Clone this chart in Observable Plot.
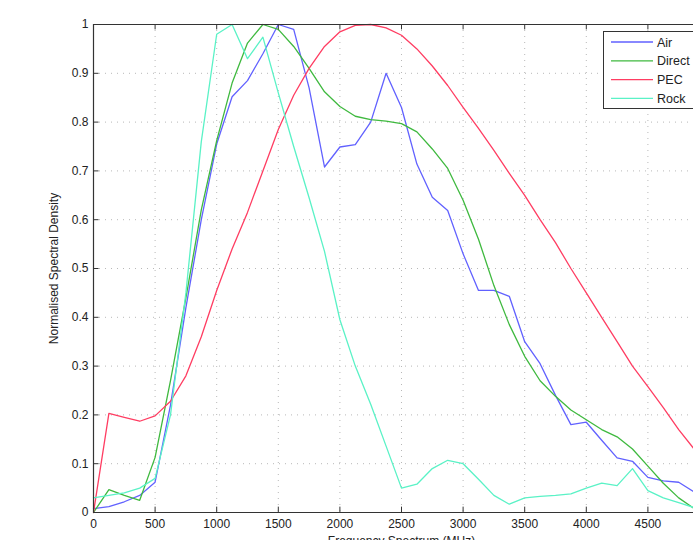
<!DOCTYPE html>
<html>
<head>
<meta charset="utf-8">
<script src="https://cdn.jsdelivr.net/npm/d3@7"></script>
<script src="https://cdn.jsdelivr.net/npm/@observablehq/plot@0.6"></script>
<style>
  html, body { margin: 0; padding: 0; background: #fff; overflow: hidden; width: 693px; height: 540px; }
  #chart { position: relative; width: 693px; height: 540px; overflow: hidden; }
  #chart svg { max-width: none !important; width: 720px !important; height: 560px !important; font-family: "Liberation Sans", Arial, sans-serif; }
</style>
</head>
<body>
<div id="chart"></div>
<script>
const freq = [0,125,250,375,500,625,750,875,1000,1125,1250,1375,1500,1625,1750,1875,2000,2125,2250,2375,2500,2625,2750,2875,3000,3125,3250,3375,3500,3625,3750,3875,4000,4125,4250,4375,4500,4625,4750,4875,5000];
const air = [0.008,0.012,0.022,0.035,0.062,0.22,0.42,0.60,0.755,0.852,0.885,0.94,1.0,0.99,0.87,0.708,0.749,0.754,0.80,0.90,0.83,0.714,0.646,0.619,0.53,0.455,0.455,0.443,0.35,0.305,0.24,0.18,0.185,0.148,0.112,0.105,0.072,0.065,0.062,0.042,0.03];
const direct = [0,0.047,0.035,0.025,0.113,0.27,0.44,0.62,0.762,0.88,0.962,1.0,0.99,0.955,0.91,0.862,0.832,0.812,0.805,0.802,0.797,0.78,0.745,0.705,0.64,0.56,0.465,0.385,0.32,0.27,0.238,0.21,0.19,0.17,0.155,0.13,0.095,0.06,0.03,0.008,0];
const pec = [0,0.203,0.195,0.187,0.198,0.228,0.28,0.36,0.455,0.54,0.615,0.70,0.785,0.855,0.91,0.955,0.985,0.998,1.0,0.993,0.978,0.95,0.915,0.875,0.83,0.787,0.742,0.695,0.65,0.60,0.553,0.50,0.45,0.40,0.35,0.30,0.258,0.215,0.17,0.13,0.095];
const rock = [0.03,0.035,0.04,0.05,0.07,0.2,0.45,0.76,0.98,1.0,0.93,0.974,0.86,0.75,0.645,0.535,0.395,0.30,0.222,0.136,0.05,0.058,0.09,0.107,0.10,0.068,0.035,0.017,0.03,0.033,0.035,0.038,0.05,0.06,0.055,0.09,0.045,0.03,0.02,0.01,0.005];

const seriesNames = ["Air", "Direct", "PEC", "Rock"];
const seriesColors = ["#6161ff", "#3fb93f", "#ff3d62", "#5af2c6"];
const seriesValues = [air, direct, pec, rock];

const xTicks = [0,500,1000,1500,2000,2500,3000,3500,4000,4500,5000];
const xTickLabels = ["0","500","1000","1500","2000","2500","3000","3500","4000","4500","5000"];
const yTicks = [0,0.1,0.2,0.3,0.4,0.5,0.6,0.7,0.8,0.9,1];
const yTickLabels = ["0","0.1","0.2","0.3","0.4","0.5","0.6","0.7","0.8","0.9","1"];

const rows = [];
seriesNames.forEach((name, i) => {
  freq.forEach((f, j) => rows.push({series: name, f, v: seriesValues[i][j]}));
});

const frameColor = "#333";
const gridColor = "#b8b8b8";

const plot = Plot.plot({
  width: 720,
  height: 560,
  marginLeft: 93,
  marginRight: 11,
  marginTop: 24,
  marginBottom: 48,
  style: {fontFamily: "'Liberation Sans', Arial, sans-serif", fontSize: "12px", color: "#222", background: "#fff", maxWidth: "none"},
  x: {domain: [0, 5000]},
  y: {domain: [0, 1]},
  color: {domain: seriesNames, range: seriesColors},
  marks: [
    Plot.gridX(xTicks.filter(d => d > 0 && d < 5000), {stroke: gridColor, strokeOpacity: 1, strokeDasharray: "1,5"}),
    Plot.gridY(yTicks.filter(d => d > 0 && d < 1), {stroke: gridColor, strokeOpacity: 1, strokeDasharray: "1,5"}),
    Plot.line(rows, {x: "f", y: "v", z: "series", stroke: "series", strokeWidth: 1.3}),
    Plot.ruleY([0, 1], {stroke: frameColor, strokeWidth: 1.2}),
    Plot.ruleX([0, 5000], {stroke: frameColor, strokeWidth: 1.2}),
    Plot.ruleX(xTicks, {x: d => d, y1: 0, y2: 0.011, stroke: frameColor}),
    Plot.ruleX(xTicks, {x: d => d, y1: 0.989, y2: 1, stroke: frameColor}),
    Plot.ruleY(yTicks, {y: d => d, x1: 0, x2: 45, stroke: frameColor}),
    Plot.ruleY(yTicks, {y: d => d, x1: 4955, x2: 5000, stroke: frameColor}),
    Plot.axisX(xTicks.slice(0, -1), {tickSize: 0, tickPadding: 7, fontSize: 12, fill: "#222", tickFormat: (d, i) => xTickLabels[i], label: "Frequency Spectrum (MHz)", labelAnchor: "center", labelArrow: "none", labelOffset: 32}),
    Plot.axisY(yTicks, {tickSize: 0, tickPadding: 5, fontSize: 12, fill: "#222", tickFormat: (d, i) => yTickLabels[i], label: "Normalised Spectral Density", labelAnchor: "center", labelArrow: "none", labelOffset: 44})
  ]
});

document.getElementById("chart").appendChild(plot);

// Legend (MATLAB-style box in upper right)
const svg = d3.select(plot);
const lg = svg.append("g").attr("class", "legend").attr("text-anchor", "start");
lg.append("rect").attr("x", 603.5).attr("y", 31.5).attr("width", 110).attr("height", 77)
  .attr("fill", "#fff").attr("stroke", frameColor).attr("stroke-width", 1);
seriesNames.forEach((name, i) => {
  const yy = 42 + i * 18.8;
  lg.append("line").attr("x1", 611).attr("x2", 653).attr("y1", yy).attr("y2", yy)
    .attr("stroke", seriesColors[i]).attr("stroke-width", 1.3);
  lg.append("text").attr("x", 657).attr("y", yy).attr("dy", "0.36em")
    .attr("text-anchor", "start")
    .attr("font-size", 12.5).attr("fill", "#222").text(name);
});
</script>
</body>
</html>
